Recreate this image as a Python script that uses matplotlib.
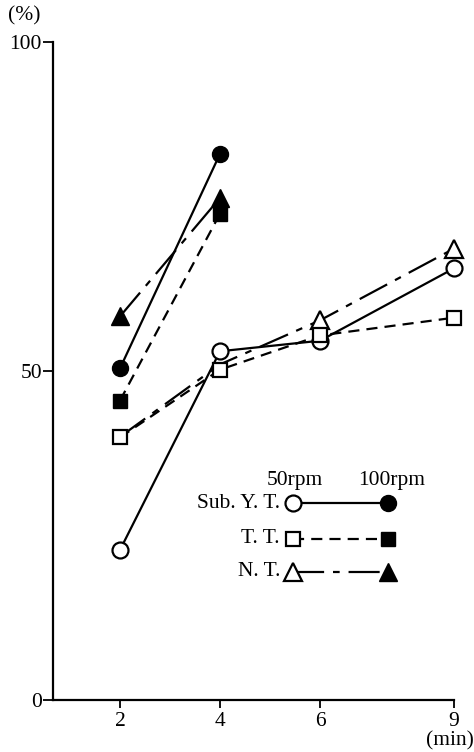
import matplotlib
matplotlib.use("Agg")
import matplotlib.pyplot as plt
from matplotlib.lines import Line2D

plt.rcParams['font.family'] = ['Liberation Serif', 'DejaVu Serif']

# ---- data ----
time_labels = ['2', '4', '6', '9']
x_pos = [2, 4, 6, 8.68]          # drawn positions of the time ticks (min)
yt_50 = [22.8, 53.0, 54.6, 65.6]
tt_50 = [39.9, 50.2, 55.4, 58.1]
nt_50 = [40.0, 51.0, 57.7, 68.6]
yt_100 = [50.4, 83.0]
tt_100 = [45.5, 73.9]
nt_100 = [58.3, 76.3]
y_ticks = [0, 50, 100]

FS = 15.5
fig = plt.figure(figsize=(4.74, 7.52), dpi=100)
ax = fig.add_axes([53/474, 52/752, 401/474, 658/752])

lw = 1.6
ms_c = 11.5
ms_s = 10.5
ms_t = 13
dash_tt = (0, (5, 3.2))
dash_nt = (0, (14, 4, 3, 4))

# 50 rpm (open)
ax.plot(x_pos, yt_50, color='black', lw=lw, ls='-', marker='o', ms=ms_c,
        mfc='white', mec='black', mew=1.6, zorder=3, clip_on=False)
ax.plot(x_pos, nt_50, color='black', lw=lw, ls=dash_nt, marker='^', ms=ms_t,
        mfc='white', mec='black', mew=1.6, markevery=[2, 3], zorder=3,
        clip_on=False)
ax.plot(x_pos, tt_50, color='black', lw=lw, ls=dash_tt, marker='s', ms=ms_s,
        mfc='white', mec='black', mew=1.6, zorder=4, clip_on=False)

# 100 rpm (filled)
ax.plot(x_pos[:2], yt_100, color='black', lw=lw, ls='-', marker='o', ms=ms_c,
        mfc='black', mec='black', zorder=3)
ax.plot(x_pos[:2], tt_100, color='black', lw=lw, ls=dash_tt, marker='s', ms=ms_s,
        mfc='black', mec='black', zorder=3)
ax.plot(x_pos[:2], nt_100, color='black', lw=lw, ls=dash_nt, marker='^', ms=ms_t,
        mfc='black', mec='black', zorder=3)

ax.set_xlim(0.66, 8.68)
ax.set_ylim(0, 100)
for s in ['top', 'right']:
    ax.spines[s].set_visible(False)
for s in ['left', 'bottom']:
    ax.spines[s].set_linewidth(1.6)
ax.set_xticks(x_pos)
ax.set_xticklabels(time_labels, fontsize=FS)
ax.set_yticks(y_ticks)
ax.set_yticklabels([str(v) for v in y_ticks], fontsize=FS)
ax.tick_params(axis='x', direction='out', length=6, width=1.3, pad=3)
ax.tick_params(axis='y', direction='out', length=7, width=1.3, pad=1)

ax.text(-0.113, 1.04, '(%)', transform=ax.transAxes, fontsize=FS,
        ha='left', va='center')
ax.text(1.05, -0.062, '(min)', transform=ax.transAxes, fontsize=FS,
        ha='right', va='center', clip_on=False)

# ---- legend drawn by hand ----
x_open, x_fill = 0.599, 0.835
rows = [(0.299, 'Sub. Y. T.', '-', 'o', ms_c),
        (0.245, 'T. T.', dash_tt, 's', ms_s),
        (0.195, 'N. T.', dash_nt, '^', ms_t)]
for y, lab, ls, mk, ms in rows:
    ax.add_line(Line2D([x_open, x_fill], [y, y], transform=ax.transAxes,
                       color='black', lw=lw, ls=ls, zorder=2))
    ax.add_line(Line2D([x_open], [y], transform=ax.transAxes, marker=mk, ms=ms,
                       mfc='white', mec='black', mew=1.6, ls='none', zorder=3))
    ax.add_line(Line2D([x_fill], [y], transform=ax.transAxes, marker=mk, ms=ms,
                       mfc='black', mec='black', ls='none', zorder=3))
    ax.text(0.566, y, lab, transform=ax.transAxes, fontsize=FS,
            ha='right', va='center')
ax.text(0.603, 0.334, '50rpm', transform=ax.transAxes, fontsize=FS,
        ha='center', va='center')
ax.text(0.845, 0.334, '100rpm', transform=ax.transAxes, fontsize=FS,
        ha='center', va='center')

fig.savefig('out.png', dpi=100)
